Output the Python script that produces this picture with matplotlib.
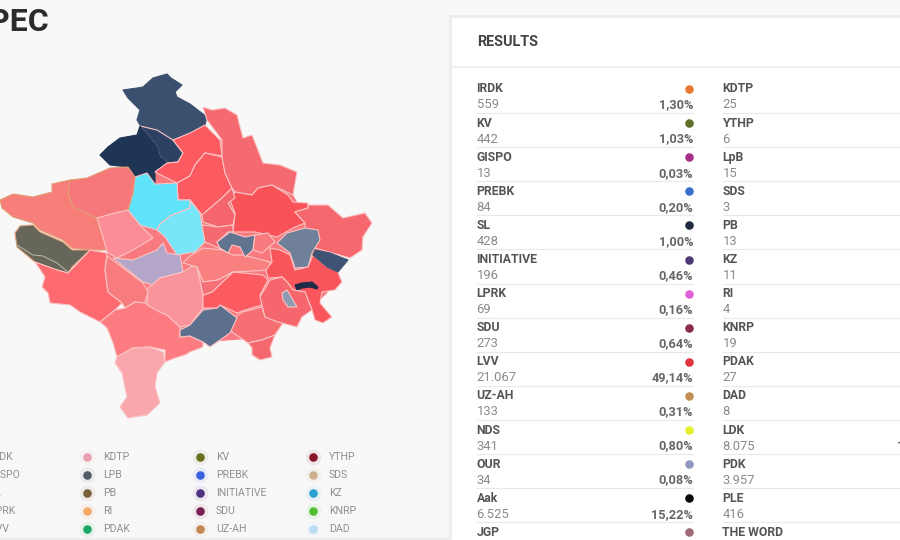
import matplotlib
matplotlib.use('Agg')
import matplotlib.pyplot as plt
from matplotlib.patches import Rectangle

plt.rcParams['font.family'] = ['Roboto', 'DejaVu Sans']

# map outlines
map_base = [(107,253),(135,177),(190,133),(222,140),(258,175),(290,190),(305,215),(318,240),(338,262),(338,272),(335,285),(320,300),(300,315),(283,322),(262,338),(205,342),(190,335),(165,345),(125,305),(108,285)]
leposavic = [(123,90),(137,88),(143,87),(153,78),(167,74),(171,78),(182,85),(175,92),(177,97),(190,104),(207,117),(205,125),(190,133),(173,140),(157,130),(140,125),(137,120),(140,110),(128,98)]
zvecan = [(100,155),(108,147),(120,138),(137,135),(140,126),(150,138),(157,147),(160,157),(168,163),(155,170),(155,184),(147,173),(135,177),(128,167),(110,165)]
zubin = [(140,126),(157,130),(173,140),(183,153),(178,162),(168,163),(160,157),(157,147),(150,138)]
vushtrri_n = [(190,133),(205,125),(220,140),(222,156),(205,153),(195,165),(190,176),(177,183),(155,172),(167,163),(178,162),(183,153),(173,140)]
vushtrri_s = [(222,157),(205,153),(195,165),(190,176),(177,183),(178,200),(190,200),(202,215),(223,197),(232,188),(225,173)]
podujeve = [(203,107),(212,110),(225,108),(237,115),(243,138),(252,135),(258,150),(263,163),(280,165),(297,172),(293,195),(272,185),(258,188),(252,195),(235,192),(232,188),(225,173),(222,157),(222,140),(207,120)]
prishtine = [(230,200),(235,192),(252,195),(258,188),(272,185),(288,195),(293,202),(308,203),(308,208),(295,212),(305,223),(293,228),(277,237),(255,232),(233,232),(235,213)]
kamenice = [(308,205),(328,205),(343,218),(365,213),(372,223),(363,237),(362,250),(350,258),(315,248),(318,233),(305,228),(305,223),(295,212),(308,208)]
skenderaj = [(135,177),(147,173),(155,184),(177,183),(178,200),(190,200),(190,208),(170,216),(160,224),(157,230),(140,225),(128,210),(133,193)]
drenas = [(190,208),(190,200),(200,213),(205,242),(195,252),(177,255),(165,237),(157,230),(160,224),(170,216)]
peje = [(0,200),(13,194),(33,197),(52,192),(52,184),(70,180),(68,193),(73,207),(97,218),(103,237),(107,250),(90,250),(72,248),(63,240),(40,230),(33,223),(13,217),(2,208)]
istog = [(70,180),(87,178),(110,168),(128,167),(135,177),(133,193),(128,210),(115,213),(97,218),(73,207),(68,193)]
kline = [(97,218),(115,213),(128,210),(140,225),(153,238),(133,250),(117,258),(107,252),(103,237)]
decan = [(15,233),(20,226),(33,225),(40,232),(63,242),(72,250),(90,250),(72,267),(68,273),(57,270),(35,262),(17,247)]
gjakove = [(35,262),(57,270),(68,273),(73,268),(90,250),(107,253),(105,270),(108,292),(122,303),(115,310),(100,322),(80,312),(70,305),(50,303),(48,293),(42,287),(45,277)]
rahovec = [(107,256),(115,262),(143,283),(148,292),(145,303),(135,302),(125,308),(122,303),(108,292),(105,270)]
prizren = [(100,322),(115,310),(125,308),(135,302),(145,303),(160,312),(167,315),(180,327),(180,337),(190,336),(203,342),(203,347),(190,352),(185,355),(175,358),(165,362),(165,350),(150,347),(133,348),(117,357),(113,343),(107,328)]
dragash = [(117,357),(133,348),(150,347),(163,352),(165,362),(157,373),(155,387),(160,403),(147,415),(128,418),(120,407),(127,397),(122,373),(115,363)]
malisheve = [(113,258),(133,260),(157,250),(163,243),(167,253),(180,255),(183,272),(160,278),(153,285),(143,282)]
suhareke = [(148,288),(160,278),(183,272),(192,266),(197,267),(200,280),(203,295),(203,308),(190,325),(180,327),(167,315),(160,312),(147,305)]
kacanik = [(180,330),(190,325),(203,310),(217,308),(220,305),(237,318),(230,333),(210,347),(203,342),(190,336),(180,337)]
shtime = [(203,295),(212,292),(233,272),(263,275),(268,280),(260,295),(262,305),(245,310),(237,313),(220,305),(217,308),(203,308)]
lipjan_n = [(183,263),(190,256),(203,248),(222,250),(233,255),(243,255),(270,262),(270,270),(233,272),(218,280),(203,282),(197,267)]
lipjan_s = [(197,267),(203,282),(218,280),(233,272),(212,292),(203,295),(200,280)]
kastriot = [(202,215),(223,197),(232,188),(235,198),(228,203),(235,215),(233,225),(218,227),(203,222)]
fushe = [(202,225),(218,227),(233,225),(233,232),(228,232),(217,242),(228,252),(205,242)]
obiliq = [(217,242),(230,232),(245,237),(255,235),(253,250),(245,257),(240,247),(232,245),(228,253),(220,248)]
graqanice = [(255,235),(268,233),(275,242),(262,253),(253,250)]
novoberde = [(277,243),(287,233),(305,228),(318,230),(320,240),(312,253),(308,267),(295,268),(290,253)]
gjilan = [(270,248),(280,250),(290,255),(295,270),(308,267),(313,255),(327,267),(337,270),(342,282),(335,290),(322,292),(320,303),(332,317),(323,323),(315,320),(312,310),(305,292),(293,290),(288,283),(282,277),(268,278),(266,270),(272,262)]
ranillug = [(315,250),(330,253),(348,260),(338,272),(327,267),(313,255)]
kllokot = [(295,285),(302,283),(312,282),(318,287),(317,289),(310,287),(302,288),(297,290)]
viti = [(260,297),(270,280),(282,277),(288,283),(293,290),(305,292),(312,310),(302,317),(297,327),(278,322),(265,317),(262,305)]
partesh = [(282,293),(287,290),(293,300),(297,307),(288,307),(283,300)]
shterpce = [(230,320),(243,312),(262,307),(265,317),(283,323),(275,335),(262,340),(248,343),(232,332)]
hani = [(248,343),(262,340),(275,335),(270,348),(272,357),(260,360),(252,355),(252,348)]
decan_line = [(17,245),(25,250),(33,255),(43,256),(57,263),(68,272)]

map_regions = [leposavic, zubin, zvecan, vushtrri_n, vushtrri_s, podujeve, prishtine, kamenice, skenderaj, drenas,
               peje, istog, kline, decan, gjakove, rahovec, prizren, dragash, malisheve, suhareke, shterpce,
               hani, kacanik, shtime, lipjan_n, lipjan_s, kastriot, fushe, obiliq, graqanice, novoberde,
               gjilan, ranillug, kllokot, viti, partesh]
map_colors = ['#3b4f6e', '#2d4263', '#1f3556', '#fb5a60', '#fb5a60', '#f46a70', '#f95359', '#f5686e', '#5fe3fa', '#79e5f8',
              '#f87e7a', '#f6787a', '#fb8d97', '#66665a', '#fd6a70', '#f87b7d', '#fc7c82', '#f9a6ad', '#b4a6c9', '#fa949b', '#f56f73',
              '#f5696e', '#5c6f8c', '#fb5a60', '#f8807f', '#f56f75', '#f5666c', '#f56a70', '#60748f', '#f87a7f', '#6f8098',
              '#f9555c', '#3f5474', '#1f2c48', '#f5676c', '#8d9cb0']
orange_edge = [peje, istog, decan]
self_edge = [leposavic, zvecan, ranillug, kllokot]

# results card
left_names = ['IRDK', 'KV', 'GISPO', 'PREBK', 'SL', 'INITIATIVE', 'LPRK', 'SDU', 'LVV', 'UZ-AH', 'NDS', 'OUR', 'Aak', 'JGP']
left_votes = ['559', '442', '13', '84', '428', '196', '69', '273', '21.067', '133', '341', '34', '6.525', '']
left_pcts = ['1,30%', '1,03%', '0,03%', '0,20%', '1,00%', '0,46%', '0,16%', '0,64%', '49,14%', '0,31%', '0,80%', '0,08%', '15,22%', '']
left_dots = ['#e87a30', '#5f6f2a', '#a8308a', '#3a6fd0', '#1f2a40', '#4f3a78', '#e060d8', '#8a2a50', '#e0343f', '#c09058', '#e8ee30', '#9098c0', '#0a0a0a', '#a06a78']
right_names = ['KDTP', 'YTHP', 'LpB', 'SDS', 'PB', 'KZ', 'RI', 'KNRP', 'PDAK', 'DAD', 'LDK', 'PDK', 'PLE', 'THE WORD']
right_votes = ['25', '6', '15', '3', '13', '11', '4', '19', '27', '8', '8.075', '3.957', '416', '']
ldk_pct = '18,84%'

# legend under the map
legend_names = [['IRDK', 'GISPO', 'SL', 'LPRK', 'LVV'],
                ['KDTP', 'LPB', 'PB', 'RI', 'PDAK'],
                ['KV', 'PREBK', 'INITIATIVE', 'SDU', 'UZ-AH'],
                ['YTHP', 'SDS', 'KZ', 'KNRP', 'DAD']]
legend_colors = [['#e87a30', '#a8308a', '#1f2a40', '#e060d8', '#e0343f'],
                 ['#e8a0b0', '#555a68', '#7a6038', '#f5a868', '#1ea868'],
                 ['#6a7020', '#3a62e0', '#4f2f80', '#7a2050', '#c08850'],
                 ['#8a1528', '#cdb090', '#2aa0d0', '#50c030', '#b8dcf0']]

fig = plt.figure(figsize=(9, 5.4), dpi=100, facecolor='#f8f8f8')
ax = fig.add_axes([0, 0, 1, 1])
ax.set_xlim(0, 900)
ax.set_ylim(540, 0)
ax.axis('off')

ax.text(-11, 22, 'PEC', fontsize=23, fontweight='bold', color='#2b2b2b', va='center', ha='left')

ax.fill(*zip(*map_base), facecolor='#f87a7f', edgecolor='none', zorder=1.5)
for region, color in zip(map_regions, map_colors):
    edge = '#fbc4c4'
    if any(region is r for r in orange_edge):
        edge = '#e29e76'
    if any(region is r for r in self_edge):
        edge = color
    ax.fill(*zip(*region), facecolor=color, edgecolor=edge, linewidth=0.8, joinstyle='round', zorder=2)
ax.plot(*zip(*decan_line), color='#b9b9ad', lw=0.7, zorder=2.5)

for col, (names, colors) in enumerate(zip(legend_names, legend_colors)):
    for row, (name, color) in enumerate(zip(names, colors)):
        x = -26 + col * 113
        y = 457 + row * 18
        ax.scatter(x, y, s=130, color=color, alpha=0.08, linewidths=0, zorder=3)
        ax.scatter(x, y, s=38, color=color, linewidths=0, zorder=4)
        ax.text(x + 16, y, name, fontsize=7.6, color='#8f8f8f', va='center', ha='left')
ax.add_patch(Rectangle((0, 538), 452, 3, facecolor='#ececec', edgecolor='none', zorder=1))

# card with a soft edge
ax.add_patch(Rectangle((449, 15), 470, 540, facecolor='#ededed', edgecolor='none', zorder=1))
ax.add_patch(Rectangle((452, 18), 470, 540, facecolor='white', edgecolor='none', zorder=2))
ax.plot([452, 900], [67, 67], color='#efefef', lw=1.2, zorder=3)
ax.text(477, 42, 'RESULTS', fontsize=10.4, fontweight='bold', color='#444444', va='center', ha='left', zorder=4)

for i in range(14):
    y = 89 + i * 34.1
    ax.text(476.5, y, left_names[i], fontsize=8.8, fontweight='bold', color='#555555', va='center', ha='left', zorder=4)
    ax.text(476.5, y + 16, left_votes[i], fontsize=9.4, color='#8a8a8a', va='center', ha='left', zorder=4)
    ax.text(693, y + 16, left_pcts[i], fontsize=9.2, fontweight='bold', color='#666666', va='center', ha='right', zorder=4)
    ax.scatter(689, y, s=38, color=left_dots[i], linewidths=0, zorder=4)
    ax.text(722.5, y, right_names[i], fontsize=8.8, fontweight='bold', color='#555555', va='center', ha='left', zorder=4)
    ax.text(722.5, y + 16, right_votes[i], fontsize=9.4, color='#8a8a8a', va='center', ha='left', zorder=4)
    if i < 13:
        ax.plot([477, 693], [y + 24, y + 24], color='#e9e9e9', lw=0.8, zorder=3)
        ax.plot([723, 900], [y + 24, y + 24], color='#e9e9e9', lw=0.8, zorder=3)

ax.text(939, 89 + 10 * 34.1 + 16, ldk_pct, fontsize=9.2, fontweight='bold', color='#666666', va='center', ha='right', zorder=4, clip_on=True)

fig.savefig('out.png', dpi=100, facecolor=fig.get_facecolor())
